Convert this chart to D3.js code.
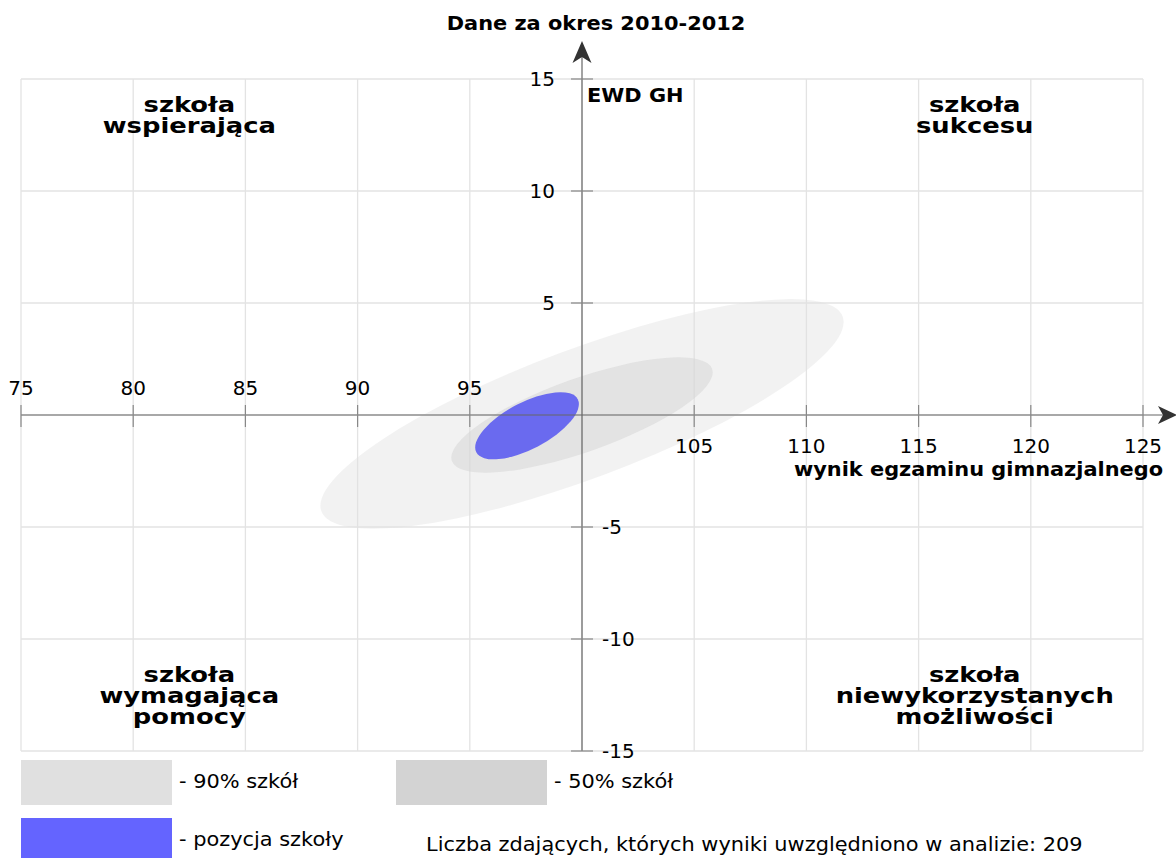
<!DOCTYPE html>
<html>
<head>
<meta charset="utf-8">
<script src="https://cdn.jsdelivr.net/npm/d3@7"></script>
<style>
  body { margin: 0; background: #fff; }
  svg text { font-family: "DejaVu Sans", sans-serif; }
</style>
</head>
<body>
<div id="viz"></div>
<script>
// data
const xTicks = [75, 80, 85, 90, 95, 100, 105, 110, 115, 120, 125];
const yTicks = [-15, -10, -5, 0, 5, 10, 15];

// ellipses: centre, semi-axes (data units) and tilt in degrees
const ellipseNames = ["90% szkół", "50% szkół", "pozycja szkoły"];
const ellipseCx = [100, 100, 97.55];
const ellipseCy = [0.05, 0, -0.48];
const ellipseA = [12.4, 6.15, 2.55];
const ellipseB = [2.89, 1.64, 1.04];
const ellipseAngle = [20.5, 19.5, 27.6];
const ellipseFill = ["#e0e0e0", "#d3d3d3", "#6060f0"];
const ellipseOpacity = [0.42, 0.5, 0.92];

const quadrantLabels = [
  { x: 82.5, top: true, lines: ["szkoła", "wspierająca"] },
  { x: 117.5, top: true, lines: ["szkoła", "sukcesu"] },
  { x: 82.5, top: false, lines: ["szkoła", "wymagająca", "pomocy"] },
  { x: 117.5, top: false, lines: ["szkoła", "niewykorzystanych", "możliwości"] }
];

const title = "Dane za okres 2010-2012";
const yLabel = "EWD GH";
const xLabel = "wynik egzaminu gimnazjalnego";
const countNote = "Liczba zdających, których wyniki uwzględniono w analizie: 209";

const W = 1176, H = 858;

const svg = d3.select("#viz").append("svg")
  .attr("width", W)
  .attr("height", H);

const x = d3.scaleLinear().domain([75, 125]).range([21, 1143]);
const y = d3.scaleLinear().domain([-15, 15]).range([751, 79]);
const x0 = x(100), y0 = y(0);

// text in the source is a bit wider than plain DejaVu
function wideText(px, py, str, opts) {
  const g = svg.append("g")
    .attr("transform", `translate(${px},${py}) scale(${opts.sx || 1.045},1)`);
  return g.append("text")
    .attr("text-anchor", opts.anchor || "start")
    .style("font-size", (opts.size || 20) + "px")
    .style("font-weight", opts.bold ? "bold" : "normal")
    .text(str);
}

// grid
svg.append("g").selectAll("line")
  .data(xTicks).enter().append("line")
  .attr("x1", d => x(d)).attr("x2", d => x(d))
  .attr("y1", y(15)).attr("y2", y(-15))
  .attr("stroke", "#e3e3e3").attr("stroke-width", 1.3);
svg.append("g").selectAll("line")
  .data(yTicks).enter().append("line")
  .attr("x1", x(75)).attr("x2", x(125))
  .attr("y1", d => y(d)).attr("y2", d => y(d))
  .attr("stroke", "#e3e3e3").attr("stroke-width", 1.3);

// quadrant labels
quadrantLabels.forEach(q => {
  const base = q.top ? 112 : 682;
  const g = svg.append("g")
    .attr("transform", `translate(${x(q.x)},${base}) scale(1.26,1)`);
  q.lines.forEach((t, i) => {
    g.append("text")
      .attr("x", 0)
      .attr("y", i * 21)
      .attr("text-anchor", "middle")
      .style("font-size", "20.5px")
      .style("font-weight", "bold")
      .text(t);
  });
});

// ellipses
svg.append("g").selectAll("ellipse")
  .data(ellipseNames).enter().append("ellipse")
  .attr("cx", 0).attr("cy", 0)
  .attr("rx", (d, i) => x(ellipseCx[i] + ellipseA[i]) - x(ellipseCx[i]))
  .attr("ry", (d, i) => y(ellipseCy[i]) - y(ellipseCy[i] + ellipseB[i]))
  .attr("transform", (d, i) => `translate(${x(ellipseCx[i])},${y(ellipseCy[i])}) rotate(${-ellipseAngle[i]})`)
  .attr("fill", (d, i) => ellipseFill[i])
  .attr("fill-opacity", (d, i) => ellipseOpacity[i]);

// axes through (100, 0)
svg.append("line")
  .attr("x1", x(75)).attr("x2", 1168)
  .attr("y1", y0).attr("y2", y0)
  .attr("stroke", "#666").attr("stroke-width", 1.2);
svg.append("line")
  .attr("x1", x0).attr("x2", x0)
  .attr("y1", y(-15)).attr("y2", 48)
  .attr("stroke", "#666").attr("stroke-width", 1.2);

svg.append("path")
  .attr("d", `M${x0},41 L${x0 - 9.5},63 L${x0},57 L${x0 + 9.5},63 Z`)
  .attr("fill", "#333");
svg.append("path")
  .attr("d", `M1177,${y0} L1158,${y0 - 9} L1163,${y0} L1158,${y0 + 9} Z`)
  .attr("fill", "#333");

// x ticks
const xt = xTicks.filter(d => d !== 100);
svg.append("g").selectAll("line")
  .data(xt).enter().append("line")
  .attr("x1", d => x(d)).attr("x2", d => x(d))
  .attr("y1", y0 - 10).attr("y2", y0 + 12)
  .attr("stroke", "#888").attr("stroke-width", 1.2);
svg.append("g").selectAll("text")
  .data(xt).enter().append("text")
  .attr("x", d => x(d))
  .attr("y", d => d < 100 ? y0 - 20 : y0 + 38)
  .attr("text-anchor", "middle")
  .style("font-size", "20px")
  .text(d => d);

// y ticks
const yt = yTicks.filter(d => d !== 0);
svg.append("g").selectAll("line")
  .data(yt).enter().append("line")
  .attr("x1", x0 - 11).attr("x2", x0 + 11)
  .attr("y1", d => y(d)).attr("y2", d => y(d))
  .attr("stroke", "#888").attr("stroke-width", 1.2);
svg.append("g").selectAll("text")
  .data(yt).enter().append("text")
  .attr("x", d => d > 0 ? x0 - 27 : x0 + 20)
  .attr("y", d => y(d))
  .attr("dy", "0.36em")
  .attr("text-anchor", d => d > 0 ? "end" : "start")
  .style("font-size", "20px")
  .text(d => d);

// titles
wideText(596, 30, title, { anchor: "middle", bold: true });
wideText(x0 + 5, 102, yLabel, { bold: true });
wideText(1163, 476, xLabel, { anchor: "end", bold: true });

// legend
const legendX = [21, 396, 21];
const legendY = [760, 760, 818];
const legendFill = ["#e0e0e0", "#d3d3d3", "#6464ff"];
const legend = svg.append("g");
legend.selectAll("rect")
  .data(ellipseNames).enter().append("rect")
  .attr("x", (d, i) => legendX[i])
  .attr("y", (d, i) => legendY[i])
  .attr("width", 151).attr("height", 45)
  .attr("fill", (d, i) => legendFill[i]);
ellipseNames.forEach((d, i) => {
  wideText(legendX[i] + 158, legendY[i] + 28, "- " + d, {});
});

wideText(426, 851, countNote, {});
</script>
</body>
</html>
